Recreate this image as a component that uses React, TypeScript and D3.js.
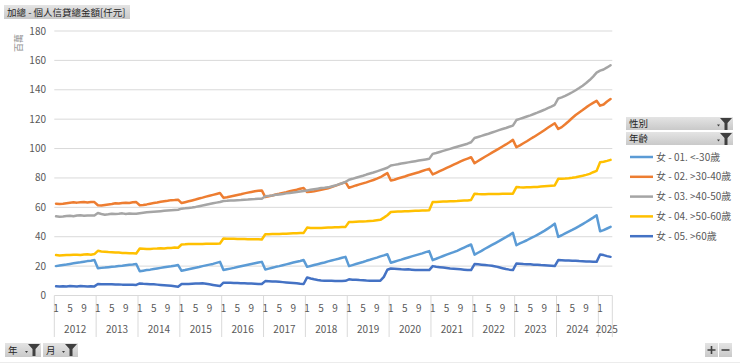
import * as d3 from 'd3';

const years = [2012, 2013, 2014, 2015, 2016, 2017, 2018, 2019, 2020, 2021, 2022, 2023, 2024, 2025];
const monthsInLastYear = 4;
const monthTicks = [1, 5, 9];
const yTicks = [0, 20, 40, 60, 80, 100, 120, 140, 160, 180];

const seriesNames = ['女 - 01. <-30歲', '女 - 02. >30-40歲', '女 - 03. >40-50歲', '女 - 04. >50-60歲', '女 - 05. >60歲'];
const seriesColors = ['#5b9bd5', '#ed7d31', '#a5a5a5', '#ffc000', '#4472c4'];

// one row per year, Jan..Dec
const under30 = [
  20.0, 20.4, 20.8, 21.1, 21.5, 21.9, 22.3, 22.6, 23.0, 23.4, 23.7, 24.1,
  18.5, 18.8, 19.0, 19.3, 19.6, 19.8, 20.1, 20.3, 20.6, 20.9, 21.1, 21.4,
  16.5, 16.9, 17.3, 17.6, 18.0, 18.4, 18.8, 19.2, 19.6, 19.9, 20.3, 20.7,
  16.8, 17.3, 17.9, 18.4, 18.9, 19.4, 20.0, 20.5, 21.0, 21.5, 22.2, 22.9,
  17.3, 17.8, 18.3, 18.8, 19.4, 19.9, 20.4, 20.9, 21.4, 21.9, 22.4, 22.9,
  17.7, 18.3, 18.9, 19.5, 20.0, 20.6, 21.2, 21.8, 22.4, 23.0, 23.5, 24.1,
  19.5, 20.1, 20.7, 21.3, 21.9, 22.5, 23.2, 23.8, 24.4, 25.0, 25.7, 26.3,
  20.0, 20.7, 21.4, 22.1, 22.8, 23.6, 24.3, 25.1, 25.8, 26.6, 27.3, 28.1,
  22.3, 23.0, 23.7, 24.4, 25.2, 25.9, 26.6, 27.3, 28.0, 28.7, 29.5, 30.2,
  24.1, 25.0, 26.0, 26.9, 27.8, 28.7, 29.5, 30.4, 31.5, 32.6, 33.7, 34.7,
  27.8, 29.1, 30.4, 31.8, 33.1, 34.4, 35.7, 37.0, 38.4, 39.7, 41.1, 42.6,
  34.2, 35.4, 36.5, 37.6, 38.8, 40.0, 41.3, 42.6, 44.0, 45.5, 47.1, 48.9,
  39.9, 41.0, 42.2, 43.4, 44.6, 45.9, 47.2, 48.6, 50.0, 51.5, 53.0, 54.6,
  43.7, 44.5, 45.6, 46.7,
];

const age30to40 = [
  62.5, 62.2, 62.4, 62.8, 63.1, 63.4, 63.2, 63.5, 63.6, 63.3, 63.7, 63.6,
  61.4, 61.2, 61.6, 62.0, 62.3, 62.8, 62.6, 63.0, 63.1, 62.9, 63.4, 63.6,
  61.4, 61.6, 62.0, 62.5, 62.9, 63.3, 63.8, 64.2, 64.5, 64.9, 65.0, 65.2,
  62.9, 63.5, 64.1, 64.7, 65.3, 66.0, 66.6, 67.3, 67.9, 68.5, 69.1, 69.7,
  66.6, 66.9, 67.4, 67.9, 68.4, 68.9, 69.5, 70.0, 70.5, 71.0, 71.3, 71.5,
  67.0, 67.6, 68.1, 68.7, 69.2, 69.8, 70.3, 70.9, 71.5, 72.0, 72.6, 73.1,
  70.4, 70.6, 71.0, 71.5, 72.0, 72.5, 73.0, 73.8, 74.6, 75.5, 76.3, 77.2,
  73.3, 74.1, 74.9, 75.6, 76.3, 77.0, 77.8, 78.6, 79.5, 80.5, 81.9, 83.3,
  78.3, 78.8, 79.6, 80.3, 81.0, 81.8, 82.5, 83.2, 83.9, 84.7, 85.5, 86.2,
  82.4, 83.5, 84.6, 85.7, 86.8, 87.9, 89.0, 90.1, 91.2, 92.3, 93.2, 94.1,
  90.0, 91.5, 93.0, 94.4, 95.8, 97.2, 98.6, 100.0, 101.4, 102.8, 104.3, 105.9,
  100.9, 102.2, 103.6, 105.0, 106.5, 107.9, 109.4, 110.9, 112.5, 114.1, 115.7, 117.2,
  113.3, 114.6, 116.5, 118.6, 120.8, 122.8, 124.5, 126.2, 128.0, 129.6, 131.1, 132.5,
  129.2, 130.0, 132.0, 133.7,
];

const age40to50 = [
  53.9, 53.6, 53.8, 54.1, 54.3, 54.0, 54.4, 54.6, 54.3, 54.5, 54.4, 54.4,
  56.1, 55.5, 55.0, 55.3, 55.7, 55.4, 55.6, 55.9, 55.5, 55.8, 55.7, 55.6,
  56.0, 56.3, 56.6, 56.8, 57.0, 57.2, 57.4, 57.6, 57.8, 58.0, 58.2, 58.4,
  59.1, 59.3, 59.6, 59.9, 60.3, 60.8, 61.3, 61.8, 62.3, 62.8, 63.2, 63.6,
  64.3, 64.4, 64.6, 64.7, 64.9, 65.0, 65.2, 65.3, 65.5, 65.6, 65.8, 65.9,
  67.5, 67.8, 68.1, 68.5, 68.8, 69.1, 69.5, 69.8, 70.1, 70.4, 70.8, 71.1,
  71.5, 71.9, 72.3, 72.7, 73.1, 73.3, 73.6, 74.2, 74.8, 75.6, 76.4, 77.2,
  78.8, 79.4, 80.1, 80.8, 81.5, 82.3, 83.0, 83.7, 84.5, 85.3, 86.1, 86.9,
  88.5, 88.9, 89.3, 89.8, 90.2, 90.6, 91.0, 91.4, 91.8, 92.2, 92.6, 93.0,
  96.4, 97.0, 97.7, 98.4, 99.1, 99.8, 100.5, 101.2, 101.9, 102.6, 103.3, 104.3,
  107.2, 107.9, 108.6, 109.4, 110.1, 110.9, 111.7, 112.5, 113.3, 114.0, 114.8, 115.6,
  119.4, 120.2, 121.0, 121.8, 122.6, 123.5, 124.4, 125.4, 126.4, 127.5, 128.6, 129.8,
  134.1, 134.8, 135.8, 137.0, 138.3, 139.7, 141.2, 142.8, 144.6, 146.6, 149.0, 151.7,
  153.0, 153.8, 155.2, 156.7,
];

const age50to60 = [
  27.5, 27.2, 27.4, 27.6, 27.5, 27.7, 27.8, 27.6, 27.9, 28.0, 27.8, 28.2,
  30.4, 30.0, 29.8, 29.6, 29.5, 29.3, 29.2, 29.0, 28.9, 28.8, 28.7, 28.6,
  32.0, 31.8, 31.6, 31.7, 31.9, 32.0, 32.2, 32.0, 32.3, 32.4, 32.6, 32.5,
  34.7, 34.8, 35.0, 35.0, 35.0, 35.1, 35.1, 35.2, 35.2, 35.3, 35.3, 35.4,
  38.8, 38.7, 38.6, 38.6, 38.5, 38.4, 38.4, 38.3, 38.3, 38.2, 38.2, 38.1,
  41.7, 41.7, 41.8, 41.8, 41.9, 42.0, 42.1, 42.2, 42.3, 42.4, 42.5, 42.6,
  46.2, 46.0, 45.9, 45.9, 46.0, 46.1, 46.2, 46.3, 46.4, 46.5, 46.6, 46.7,
  50.0, 50.1, 50.2, 50.3, 50.4, 50.5, 50.7, 50.9, 51.2, 51.5, 53.0, 54.6,
  56.8, 57.0, 57.1, 57.2, 57.3, 57.4, 57.5, 57.6, 57.7, 57.8, 57.9, 58.0,
  63.6, 63.7, 63.8, 63.9, 64.0, 64.1, 64.2, 64.3, 64.5, 64.6, 64.7, 65.0,
  69.3, 69.0, 68.9, 68.9, 69.0, 69.0, 69.1, 69.1, 69.2, 69.2, 69.3, 69.3,
  73.8, 73.6, 73.5, 73.6, 73.7, 73.8, 73.9, 74.1, 74.3, 74.5, 74.7, 74.9,
  79.4, 79.5, 79.6, 79.8, 80.1, 80.5, 81.0, 81.5, 82.1, 82.8, 83.9, 84.8,
  90.7, 91.0, 91.6, 92.3,
];

const over60 = [
  6.3, 6.2, 6.3, 6.2, 6.4, 6.3, 6.2, 6.4, 6.3, 6.2, 6.3, 6.2,
  7.8, 7.7, 7.7, 7.6, 7.6, 7.5, 7.5, 7.4, 7.4, 7.3, 7.3, 7.2,
  8.2, 8.0, 7.9, 7.7, 7.6, 7.4, 7.2, 7.0, 6.8, 6.6, 6.3, 6.0,
  7.8, 7.9, 7.9, 8.0, 8.1, 8.2, 8.3, 8.0, 7.6, 7.2, 6.8, 6.4,
  8.7, 8.6, 8.6, 8.5, 8.5, 8.4, 8.3, 8.2, 8.1, 8.0, 7.9, 7.8,
  9.8, 9.7, 9.6, 9.5, 9.3, 9.1, 8.9, 8.7, 8.5, 8.3, 8.0, 7.8,
  12.3, 11.6, 11.0, 10.5, 10.2, 10.0, 10.0, 10.0, 9.9, 9.8, 9.9, 10.0,
  11.0, 10.8, 10.7, 10.5, 10.4, 10.2, 10.1, 10.0, 10.0, 10.1, 12.7, 17.5,
  18.4, 18.2, 18.0, 17.8, 17.7, 17.8, 17.6, 17.4, 17.3, 17.3, 17.3, 17.3,
  20.0, 19.6, 19.3, 19.0, 18.7, 18.4, 18.2, 18.0, 17.8, 17.6, 17.4, 17.3,
  21.4, 21.2, 21.0, 20.8, 20.5, 20.2, 19.8, 19.2, 18.6, 18.0, 17.6, 17.3,
  21.8, 21.6, 21.4, 21.3, 21.2, 21.0, 20.9, 20.7, 20.6, 20.4, 20.2, 20.0,
  24.1, 24.0, 23.9, 23.8, 23.7, 23.6, 23.4, 23.3, 23.2, 23.1, 23.0, 22.9,
  27.9, 27.5, 26.8, 26.3,
];

const allSeries = [under30, age30to40, age40to50, age50to60, over60];

const W = 740;
const H = 364;
const plotLeft = 54.3;
const plotRight = 612.3;
const plotTop = 31;
const plotBottom = 295.5;
const font = '"Noto Sans CJK TC", "Noto Sans", sans-serif';
const textGray = '#595959';

// category list: every month of every year
const categories: { year: number; month: number }[] = [];
years.forEach((yr, k) => {
  const count = k === years.length - 1 ? monthsInLastYear : 12;
  for (let m = 1; m <= count; m++) categories.push({ year: yr, month: m });
});

const Funnel = ({ x, y }: { x: number; y: number }) => (
  <g transform={`translate(${x},${y})`}>
    <path d="M0,0 L12,0 L7.5,5 L7.5,12 L4.5,12 L4.5,5 Z" fill="#3f3f3f" />
  </g>
);

const FieldButton = ({ x, y, w, h, label }: { x: number; y: number; w: number; h: number; label: string }) => (
  <g>
    <rect x={x} y={y} width={w} height={h} fill="url(#btnGrad)" />
    <text x={x + 3} y={y + h / 2 + 3.5} fontSize={9.5} fill="#262626" fontFamily={font}>{label}</text>
    <path d={`M${x + w - 16},${y + h / 2 + 1} l3,0 l-1.5,2 z`} fill="#3f3f3f" />
    <Funnel x={x + w - 13} y={y + 1} />
  </g>
);

const App = () => {
  const x = d3.scaleBand<number>()
    .domain(categories.map((_, i) => i))
    .range([plotLeft, plotRight]);
  const y = d3.scaleLinear().domain([0, 180]).range([plotBottom, plotTop]);
  const cx = (i: number) => (x(i) as number) + x.bandwidth() / 2;
  const line = d3.line<number>()
    .x((_, i) => cx(i))
    .y(d => y(d));

  const yearStarts = categories.map((c, i) => ({ ...c, i })).filter(c => c.month === 1);

  return (
    <svg width={W} height={H} viewBox={`0 0 ${W} ${H}`}
      style={{ position: 'absolute', left: 0, top: 0, display: 'block', background: '#fff' }}>
      <defs>
        <linearGradient id="btnGrad" x1="0" y1="0" x2="0" y2="1">
          <stop offset="0" stopColor="#e4e4e4" />
          <stop offset="1" stopColor="#c9c9c9" />
        </linearGradient>
      </defs>

      {/* title button */}
      <rect x={4} y={5} width={126} height={14} fill="url(#btnGrad)" />
      <text x={7} y={15.5} fontSize={9.5} fill="#262626" fontFamily={font}>加總 - 個人信貸總金額[仟元]</text>

      {/* unit */}
      <text transform="translate(22,43) rotate(-90)" textAnchor="middle" fontSize={9} fill="#8c8c8c" fontFamily={font}>百萬</text>

      {/* gridlines + y labels */}
      {yTicks.map(t => (
        <g key={t}>
          {t > 0 && <line x1={plotLeft} x2={plotRight} y1={y(t)} y2={y(t)} stroke="#d9d9d9" strokeWidth={1} />}
          <text x={46} y={y(t) + 3.5} textAnchor="end" fontSize={10} fill={textGray} fontFamily={font}>{t}</text>
        </g>
      ))}

      {/* category axis */}
      <line x1={plotLeft} x2={plotRight} y1={plotBottom} y2={plotBottom} stroke="#d9d9d9" />
      {yearStarts.map(c => (
        <line key={'s' + c.year} x1={x(c.i)} x2={x(c.i)} y1={plotBottom} y2={337} stroke="#d9d9d9" />
      ))}
      <line x1={plotRight} x2={plotRight} y1={plotBottom} y2={337} stroke="#d9d9d9" />
      {categories.map((c, i) => monthTicks.includes(c.month) && (
        <text key={'m' + i} x={cx(i)} y={311.5} textAnchor="middle" fontSize={10} fill={textGray} fontFamily={font}>{c.month}</text>
      ))}
      {yearStarts.map(c => {
        const end = c.year === years[years.length - 1] ? plotRight : (x(c.i + 12) as number);
        return (
          <text key={'y' + c.year} x={((x(c.i) as number) + end) / 2 + (c.year === 2025 ? 1.5 : 0)} y={332.5}
            textAnchor="middle" fontSize={10} fill={textGray} fontFamily={font}>{c.year}</text>
        );
      })}

      {/* series */}
      {allSeries.map((s, k) => (
        <path key={k} d={line(s) as string} fill="none" stroke={seriesColors[k]} strokeWidth={2.5}
          strokeLinejoin="round" strokeLinecap="round" />
      ))}

      {/* legend */}
      <FieldButton x={626} y={117} w={107} h={13} label="性別" />
      <FieldButton x={626} y={132} w={107} h={13} label="年齡" />
      {seriesNames.map((name, k) => (
        <g key={name} transform={`translate(630,${157 + k * 19.8})`}>
          <line x1={0} x2={23} y1={0} y2={0} stroke={seriesColors[k]} strokeWidth={2.5} />
          <text x={26} y={3.5} fontSize={10} fill={textGray} fontFamily={font}>{name}</text>
        </g>
      ))}

      {/* axis field buttons */}
      <FieldButton x={5} y={343} w={36} h={14} label="年" />
      <FieldButton x={43} y={343} w={35} h={14} label="月" />

      {/* zoom buttons */}
      <rect x={705} y={343} width={13} height={14} fill="url(#btnGrad)" />
      <rect x={719} y={343} width={13} height={14} fill="url(#btnGrad)" />
      <path d="M707.5,350 h8 M711.5,346 v8" stroke="#404040" strokeWidth={1.6} />
      <path d="M721.5,350 h8" stroke="#404040" strokeWidth={1.6} />
      <line x1={0} x2={W} y1={362.5} y2={362.5} stroke="#ececec" />
    </svg>
  );
};

export default App;
